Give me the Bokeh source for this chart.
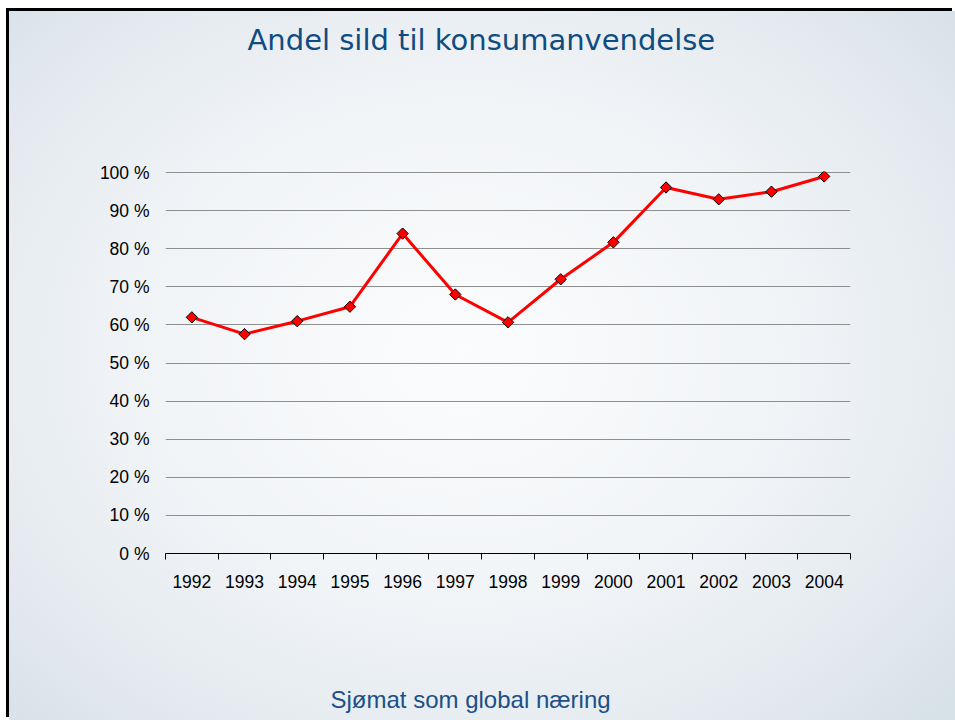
import numpy as np
from bokeh.plotting import figure
from bokeh.models import FixedTicker, PrintfTickFormatter, Title, Range1d
from bokeh.embed import file_html
from bokeh.resources import INLINE

title_text = "Andel sild til konsumanvendelse"
footer_text = "Sjømat som global næring"
years = ["1992", "1993", "1994", "1995", "1996", "1997", "1998",
         "1999", "2000", "2001", "2002", "2003", "2004"]
share = [62.0, 57.6, 61.0, 64.8, 84.0, 68.0, 60.7, 72.0, 81.7, 96.1, 93.0, 95.0, 99.0]
y_ticks = [0, 10, 20, 30, 40, 50, 60, 70, 80, 90, 100]

n = len(years)
xpos = np.arange(n) + 0.5

p = figure(width=946, height=709, output_backend="svg", toolbar_location=None,
           x_range=Range1d(0, n), y_range=Range1d(0, 100.3),
           min_border_left=156, min_border_right=105,
           min_border_top=160, min_border_bottom=167)
p.styles = {
    "margin-left": "9px",
    "margin-top": "11px",
    "box-shadow": "-3px -3px 0 0 #000000",
    "background": "radial-gradient(ellipse 75% 80% at 48% 48%, #fbfcfd 0%, #f1f4f7 45%, #e3e9ee 75%, #d2dee6 100%)",
}
p.border_fill_color = None
p.background_fill_color = None
p.outline_line_color = None

# x axis: labels at category centres, tick marks at boundaries
xt = FixedTicker(ticks=list(xpos), minor_ticks=list(np.arange(n + 1)))
p.xaxis.ticker = xt
p.xaxis.major_label_overrides = {float(x): y for x, y in zip(xpos, years)}
p.xaxis.major_tick_out = 0
p.xaxis.major_tick_in = 0
p.xaxis.minor_tick_out = 6
p.xaxis.minor_tick_in = 0
p.xaxis.minor_tick_line_color = "#000000"
p.xaxis.axis_line_color = "#000000"
p.xaxis.axis_line_width = 1
p.xaxis.major_label_text_font = "Liberation Sans"
p.xaxis.major_label_text_font_size = "17.5px"
p.xaxis.major_label_text_color = "#000000"
p.xaxis.major_label_standoff = 15
p.xgrid.grid_line_color = None

p.yaxis.ticker = FixedTicker(ticks=y_ticks)
p.yaxis.formatter = PrintfTickFormatter(format="%d %%")
p.yaxis.axis_line_color = None
p.yaxis.major_tick_line_color = None
p.yaxis.minor_tick_line_color = None
p.yaxis.major_label_text_font = "Liberation Sans"
p.yaxis.major_label_text_font_size = "17.5px"
p.yaxis.major_label_text_color = "#000000"
p.yaxis.major_label_standoff = 10
p.ygrid.grid_line_color = "#8f8f8f"
p.ygrid.grid_line_width = 1

p.line(xpos, share, line_color="#ff0000", line_width=3)
p.scatter(xpos, share, marker="square", angle=np.pi / 4, size=8, fill_color="#ff0000",
          line_color="#000000", line_width=1)

# spacer titles keep the real titles away from the frame
p.add_layout(Title(text=" ", text_font_size="10px", standoff=97), "above")
p.add_layout(Title(text=title_text, align="left", offset=82, standoff=10,
                   text_font="DejaVu Sans", text_font_size="29px", text_font_style="normal",
                   text_color="#0f4c81"), "above")
p.add_layout(Title(text=" ", text_font_size="10px", standoff=75), "below")
p.add_layout(Title(text=footer_text, align="left", offset=165, standoff=10,
                   text_font="Liberation Sans", text_font_style="normal",
                   text_font_size="24px", text_color="#1c4f86"), "below")

open("out.html", "w").write(file_html(p, INLINE))
